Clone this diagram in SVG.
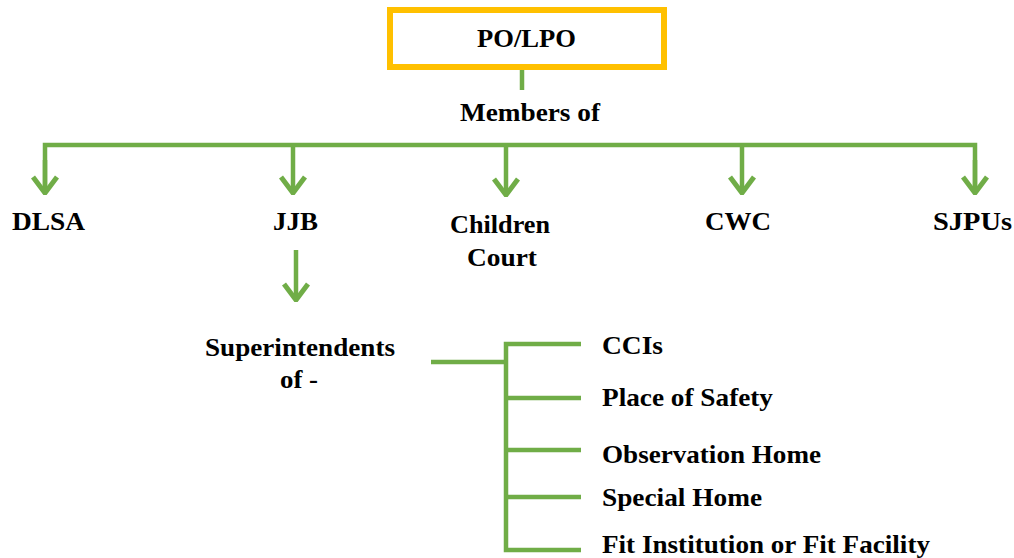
<svg xmlns="http://www.w3.org/2000/svg" width="1014" height="558" viewBox="0 0 1014 558">
<style>
.t{font-family:"Liberation Serif","Times New Roman",serif;font-weight:bold;font-size:25px;fill:#000}
.c{stroke:#70AD47;stroke-width:4.5;fill:none;stroke-linejoin:miter}
</style>
<defs>
<marker id="chev" viewBox="0 0 30 20" refX="15" refY="18" markerWidth="30" markerHeight="20" markerUnits="userSpaceOnUse" orient="0">
<path d="M3,2 L15,18 L27,2" fill="none" stroke="#70AD47" stroke-width="5"/>
</marker>
</defs>
<rect width="1014" height="558" fill="#fff"/>
<g id="connectors">
<line class="c" x1="522" y1="70" x2="522" y2="90"/>
<path class="c" d="M45,190 V145 H975 V190"/>
<line class="c" x1="293" y1="145" x2="293" y2="193" marker-end="url(#chev)"/>
<line class="c" x1="506" y1="145" x2="506" y2="195" marker-end="url(#chev)"/>
<line class="c" x1="742" y1="145" x2="742" y2="193" marker-end="url(#chev)"/>
<line class="c" x1="45" y1="160" x2="45" y2="193" marker-end="url(#chev)"/>
<line class="c" x1="975" y1="160" x2="975" y2="193" marker-end="url(#chev)"/>
<line class="c" x1="296" y1="250" x2="296" y2="300" marker-end="url(#chev)"/>
<line class="c" x1="431" y1="362" x2="506" y2="362"/>
<path class="c" d="M581,344 H506 V550 H581"/>
<line class="c" x1="506" y1="398" x2="581" y2="398"/>
<line class="c" x1="506" y1="450" x2="581" y2="450"/>
<line class="c" x1="506" y1="497" x2="581" y2="497"/>
</g>
<g id="po-lpo">
<rect x="390" y="10" width="274" height="57" fill="#fff" stroke="#FFC000" stroke-width="6"/>
<text class="t" x="477" y="47" textLength="99" lengthAdjust="spacingAndGlyphs">PO/LPO</text>
</g>
<g id="members-of"><text class="t" x="460" y="121" textLength="140" lengthAdjust="spacingAndGlyphs">Members of</text></g>
<g id="dlsa"><text class="t" x="12" y="230" textLength="73" lengthAdjust="spacingAndGlyphs">DLSA</text></g>
<g id="jjb"><text class="t" x="273" y="230" textLength="45" lengthAdjust="spacingAndGlyphs">JJB</text></g>
<g id="children-court">
<text class="t" x="450" y="233" textLength="100" lengthAdjust="spacingAndGlyphs">Children</text>
<text class="t" x="467" y="266" textLength="70" lengthAdjust="spacingAndGlyphs">Court</text>
</g>
<g id="cwc"><text class="t" x="705" y="230" textLength="66" lengthAdjust="spacingAndGlyphs">CWC</text></g>
<g id="sjpus"><text class="t" x="933" y="230" textLength="79" lengthAdjust="spacingAndGlyphs">SJPUs</text></g>
<g id="superintendents">
<text class="t" x="205" y="356" textLength="190" lengthAdjust="spacingAndGlyphs">Superintendents</text>
<text class="t" x="280" y="388" textLength="38" lengthAdjust="spacingAndGlyphs">of -</text>
</g>
<g id="ccis"><text class="t" x="602" y="354" textLength="61" lengthAdjust="spacingAndGlyphs">CCIs</text></g>
<g id="place-of-safety"><text class="t" x="602" y="406" textLength="171" lengthAdjust="spacingAndGlyphs">Place of Safety</text></g>
<g id="observation-home"><text class="t" x="602" y="463" textLength="219" lengthAdjust="spacingAndGlyphs">Observation Home</text></g>
<g id="special-home"><text class="t" x="602" y="506" textLength="160" lengthAdjust="spacingAndGlyphs">Special Home</text></g>
<g id="fit-institution"><text class="t" x="602" y="553" textLength="328" lengthAdjust="spacingAndGlyphs">Fit Institution  or Fit Facility</text></g>
</svg>
